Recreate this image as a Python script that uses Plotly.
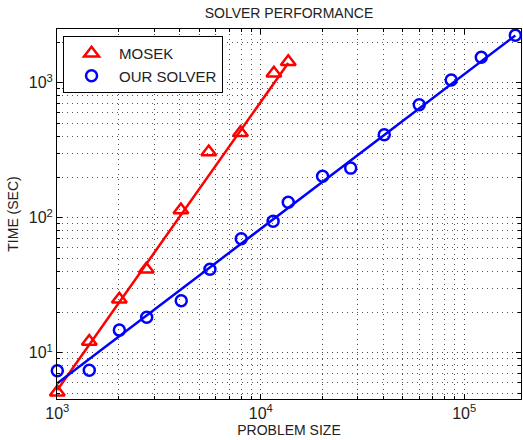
import plotly.graph_objects as go

# Data
mosek_size = [1000, 1436, 2018, 2740, 4050, 5550, 7950, 11600, 13650]
mosek_time = [5.1, 12.1, 24.9, 41.5, 114, 307, 426, 1174, 1431]

ours_size = [1000, 1436, 2018, 2750, 4065, 5625, 8017, 11500, 13650,
             20130, 27670, 40460, 60100, 86300, 121300, 178300]
ours_time = [7.36, 7.4, 14.7, 18.3, 24.3, 41.5, 69.9, 94, 130,
             203, 233, 412, 687, 1047, 1542, 2244]

mosek_fit_size = [1000, 13650]
mosek_fit_time = [5.3, 1400]
ours_fit_size = [1000, 178300]
ours_fit_time = [5.93, 2240]

x_tick_vals = [1000, 10000, 100000]
x_tick_text = ["10<sup>3</sup>", "10<sup>4</sup>", "10<sup>5</sup>"]
y_tick_vals = [10, 100, 1000]
y_tick_text = ["10<sup>1</sup>", "10<sup>2</sup>", "10<sup>3</sup>"]

RED = "#ff0000"
BLUE = "#0000ff"
FONT = "Liberation Sans, Arial, sans-serif"

fig = go.Figure()
fig.add_trace(go.Scatter(x=mosek_fit_size, y=mosek_fit_time, mode="lines",
                         line=dict(color=RED, width=2.5), showlegend=False,
                         cliponaxis=False, hoverinfo="skip"))
fig.add_trace(go.Scatter(x=ours_fit_size, y=ours_fit_time, mode="lines",
                         line=dict(color=BLUE, width=2.5), showlegend=False,
                         cliponaxis=False, hoverinfo="skip"))
fig.add_trace(go.Scatter(x=mosek_size, y=mosek_time, mode="markers", name="MOSEK",
                         marker=dict(symbol="triangle-up-open", size=13, color=RED,
                                     line=dict(width=2.5, color=RED)),
                         cliponaxis=False))
fig.add_trace(go.Scatter(x=ours_size, y=ours_time, mode="markers", name="OUR SOLVER",
                         marker=dict(symbol="circle-open", size=11, color=BLUE,
                                     line=dict(width=2.5, color=BLUE)),
                         cliponaxis=False))

axis_common = dict(
    type="log",
    tickmode="array",
    showline=True, linecolor="black", linewidth=1, mirror="ticks",
    ticks="inside", ticklen=5, tickcolor="black", tickwidth=1,
    showgrid=True, gridcolor="#444444", griddash="1px,4px", gridwidth=1,
    zeroline=False,
    tickfont=dict(family=FONT, size=16, color="#222222"),
    minor=dict(dtick="D1", ticks="inside", ticklen=3, tickcolor="black",
               showgrid=True, gridcolor="#555555", griddash="1px,4px", gridwidth=1),
)

fig.update_xaxes(range=[2.9985, 5.279], tickvals=x_tick_vals, ticktext=x_tick_text,
                 **axis_common,
                 title=dict(text="PROBLEM SIZE", standoff=2,
                            font=dict(family=FONT, size=14, color="#222222")))
fig.update_yaxes(range=[0.657, 3.398], tickvals=y_tick_vals, ticktext=y_tick_text,
                 **axis_common,
                 title=dict(text="TIME (SEC)", standoff=6,
                            font=dict(family=FONT, size=14, color="#222222")))

fig.update_layout(
    width=523, height=440,
    margin=dict(l=57, r=2, t=29, b=41),
    paper_bgcolor="white", plot_bgcolor="white",
    title=dict(text="SOLVER PERFORMANCE", x=289 / 523, xanchor="center",
               y=1 - 13 / 440, yanchor="middle",
               font=dict(family=FONT, size=14, color="#222222")),
    legend=dict(x=0.013, y=0.981, xanchor="left", yanchor="top",
                bgcolor="white", bordercolor="black", borderwidth=1,
                font=dict(family=FONT, size=15, color="#222222"),
                itemwidth=45, tracegroupgap=0),
    showlegend=True,
)

fig.write_html("out.html")
